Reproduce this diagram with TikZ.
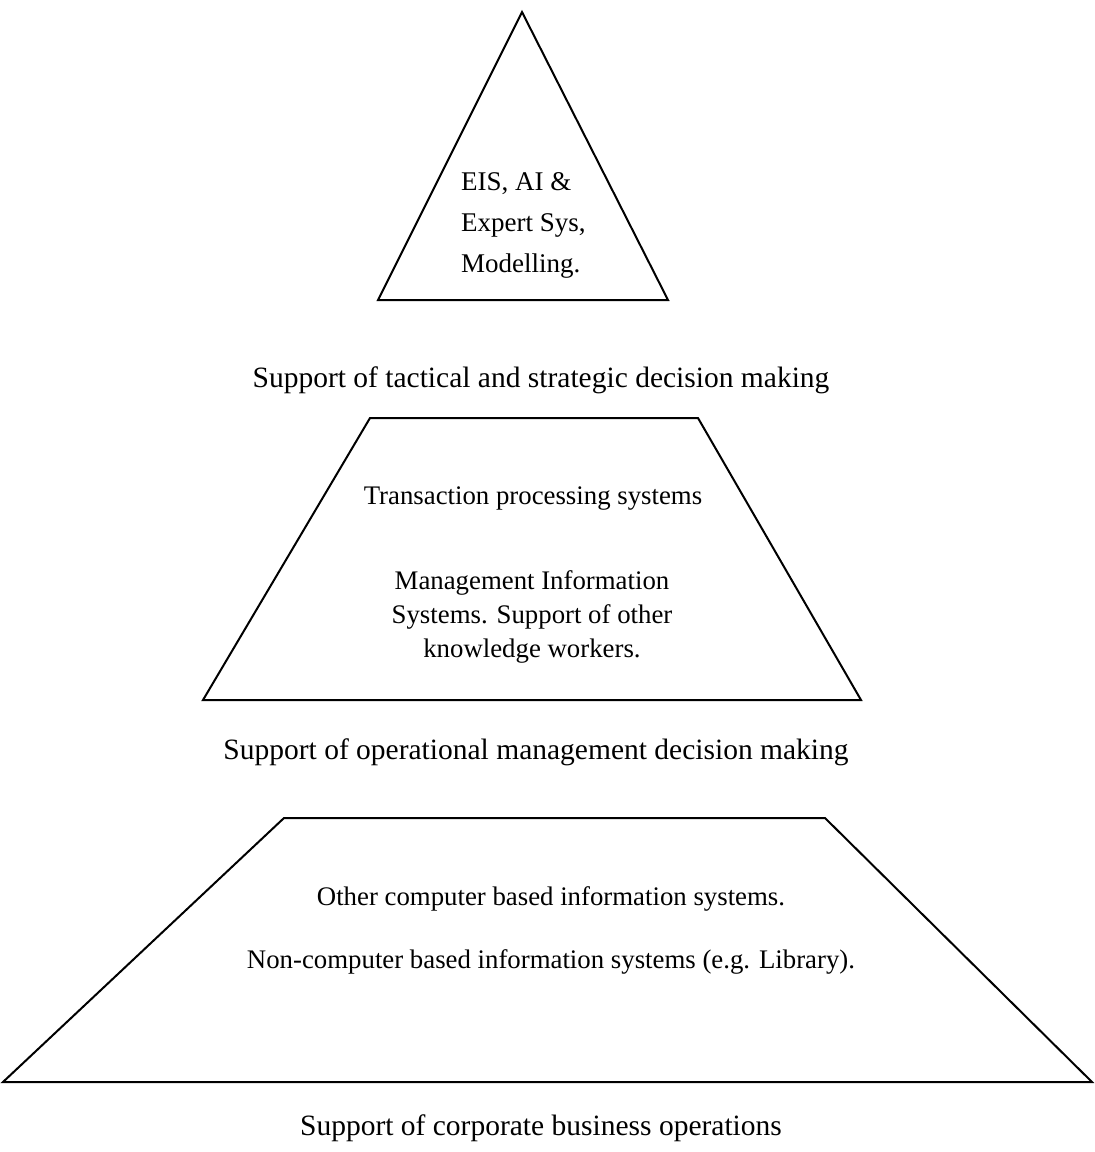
\documentclass[tikz,border=0pt]{standalone}
\usepackage{fontspec}
\setmainfont{Liberation Serif}
\begin{document}
\begin{tikzpicture}[x=1pt,y=-1pt,
  outline/.style={draw=black,line width=2pt,line join=miter},
  lbl/.style={font=\fontsize{29.5}{34}\selectfont,inner sep=0pt},
  inner/.style={font=\fontsize{26.8}{34}\selectfont,inner sep=0pt,align=center}]
\useasboundingbox (0,0) rectangle (1095,1152);
\draw[outline] (522,12) -- (668,300) -- (378,300) -- cycle;
\draw[outline] (370,418) -- (698,418) -- (861,700) -- (203,700) -- cycle;
\draw[outline] (284,818) -- (825,818) -- (1092,1082) -- (3,1082) -- cycle;
\node[inner,align=left,anchor=west,font=\fontsize{27}{41}\selectfont] (t1) at (461,225) {EIS, AI \&\\Expert Sys,\\Modelling.};
\node[lbl] (l1) at (541,380) {Support of tactical and strategic decision making};
\node[inner] (t2a) at (533,499) {Transaction processing systems};
\node[inner] (t2b) at (532,617) {Management Information\\Systems. Support of other\\knowledge workers.};
\node[lbl] (l2) at (536,752) {Support of operational management decision making};
\node[inner] (t3a) at (551,899) {Other computer based information systems.};
\node[inner] (t3b) at (551,962) {Non-computer based information systems (e.g. Library).};
\node[lbl] (l3) at (541,1128) {Support of corporate business operations};
\end{tikzpicture}
\end{document}
